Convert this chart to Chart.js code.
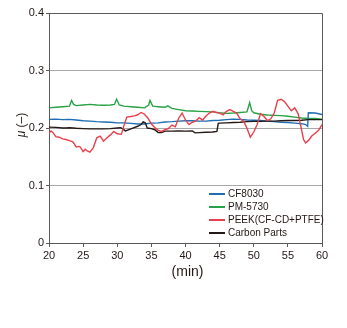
<!DOCTYPE html>
<html>
<head>
<meta charset="utf-8">
<script src="https://cdn.jsdelivr.net/npm/chart.js@4/dist/chart.umd.min.js"></script>
<style>
  html, body { margin: 0; padding: 0; background: #fff; }
  #wrap { width: 347px; height: 328px; }
</style>
</head>
<body>
<div id="wrap"><canvas id="muChart"></canvas></div>
<script>
// series names and colours
var seriesNames = ['CF8030', 'PM-5730', 'PEEK(CF-CD+PTFE)', 'Carbon Parts'];
var seriesColors = ['#1f6db4', '#27a245', '#e8404b', '#231815'];

// tick labels
var xTicks = [20, 25, 30, 35, 40, 45, 50, 55, 60];
var yTicks = ['0', '0.1', '0.2', '0.3', '0.4'];

// CF8030
var cfTime = [20, 21, 22, 23, 24, 25, 26, 27, 28, 29, 30, 31, 32, 33, 34, 35, 36, 37, 38, 39,
  40, 41, 42, 43, 44, 45, 46, 47, 48, 49, 50, 51, 52, 53, 54, 55, 56, 57, 57.6, 57.9, 58, 59, 60];
var cfMu = [0.215, 0.2155, 0.2145, 0.215, 0.214, 0.2125, 0.212, 0.211, 0.2105, 0.21, 0.209, 0.209, 0.208, 0.207, 0.207, 0.2085, 0.209, 0.2105, 0.211, 0.212,
  0.2125, 0.2125, 0.212, 0.212, 0.213, 0.2135, 0.2145, 0.2155, 0.215, 0.214, 0.2135, 0.213, 0.212, 0.211, 0.21, 0.2095, 0.2085, 0.2075, 0.206, 0.203, 0.2265, 0.226, 0.2235];

// PM-5730
var pmTime = [20, 21, 22, 23, 23.3, 23.6, 24, 25, 26, 27, 28, 29, 29.6, 29.9, 30.3, 31, 32, 33, 34, 34.6, 34.8, 35.2, 36, 37, 37.4, 38, 39,
  40, 41, 42, 43, 44, 45, 46, 47, 48, 49, 49.4, 49.7, 50, 51, 52, 53, 54, 55, 56, 57, 58, 59, 60];
var pmMu = [0.235, 0.236, 0.237, 0.238, 0.248, 0.241, 0.239, 0.240, 0.241, 0.240, 0.2395, 0.240, 0.241, 0.250, 0.240, 0.238, 0.237, 0.236, 0.235, 0.240, 0.248, 0.238, 0.237, 0.236, 0.2385, 0.234, 0.232,
  0.230, 0.2295, 0.229, 0.2285, 0.228, 0.2265, 0.2255, 0.226, 0.227, 0.228, 0.244, 0.230, 0.2265, 0.224, 0.2225, 0.222, 0.2215, 0.2205, 0.219, 0.2175, 0.2165, 0.2165, 0.2155];

// PEEK(CF-CD+PTFE)
var peekTime = [20, 20.3, 20.6, 21, 21.5, 22, 22.5, 23, 23.5, 24, 24.5, 24.8, 25, 25.3, 25.6, 26, 26.5, 27, 27.5, 28, 28.5, 29, 29.5, 30, 30.6,
  31, 31.4, 32, 32.5, 33, 33.5, 34, 34.5, 35, 35.5, 36, 36.5, 37, 37.5, 38, 38.5, 39, 39.5, 40, 40.5, 41, 41.5, 42, 42.5, 43, 43.5, 44, 44.5,
  45, 45.5, 46, 46.5, 47, 47.5, 48, 48.5, 49, 49.5, 50, 50.5, 51, 51.5, 52, 52.5, 53, 53.5, 54, 54.5, 55, 55.5, 56, 56.5, 57, 57.3, 57.6,
  58, 58.5, 59, 59.5, 60];
var peekMu = [0.191, 0.195, 0.192, 0.185, 0.184, 0.181, 0.180, 0.178, 0.176, 0.167, 0.168, 0.163, 0.159, 0.163, 0.160, 0.158, 0.166, 0.183, 0.186, 0.177, 0.183, 0.188, 0.194, 0.190, 0.189,
  0.205, 0.219, 0.220, 0.221, 0.223, 0.227, 0.224, 0.217, 0.207, 0.201, 0.196, 0.194, 0.197, 0.199, 0.205, 0.202, 0.217, 0.226, 0.214, 0.206, 0.210, 0.212, 0.218, 0.214, 0.221, 0.226, 0.229, 0.227,
  0.226, 0.223, 0.229, 0.232, 0.229, 0.226, 0.216, 0.212, 0.200, 0.184, 0.193, 0.206, 0.225, 0.220, 0.213, 0.216, 0.226, 0.248, 0.250, 0.246, 0.238, 0.230, 0.235, 0.225, 0.197, 0.180, 0.174,
  0.178, 0.186, 0.191, 0.196, 0.206];

// Carbon Parts
var cpTime = [20, 21, 22, 22.5, 23, 24, 25, 26, 27, 28, 29, 30, 30.5, 30.8, 31.2, 32, 33, 33.5, 33.8, 34.1, 34.4, 35, 35.5, 36, 36.5, 37, 38, 39,
  40, 41, 41.4, 42, 43, 44, 44.6, 44.8, 45, 46, 47, 48, 49, 50, 51, 52, 53, 54, 55, 56, 57, 58, 59, 60];
var cpMu = [0.2015, 0.201, 0.200, 0.200, 0.2005, 0.1995, 0.199, 0.1985, 0.1985, 0.1985, 0.199, 0.200, 0.2005, 0.1985, 0.195, 0.1985, 0.203, 0.206, 0.2105, 0.209, 0.200, 0.199, 0.197, 0.192, 0.192, 0.1945, 0.1945, 0.195,
  0.1945, 0.195, 0.1915, 0.192, 0.1925, 0.193, 0.194, 0.208, 0.2085, 0.209, 0.2095, 0.210, 0.211, 0.2115, 0.2115, 0.212, 0.212, 0.2125, 0.213, 0.213, 0.2135, 0.2145, 0.2145, 0.2145];

function toPoints(t, v) {
  var pts = [];
  for (var i = 0; i < t.length; i++) pts.push({ x: t[i], y: v[i] });
  return pts;
}

var allTimes = [cfTime, pmTime, peekTime, cpTime];
var allMu = [cfMu, pmMu, peekMu, cpMu];
var drawOrder = [2, 3, 0, 1];

var datasets = [];
for (var s = 0; s < seriesNames.length; s++) {
  datasets.push({
    label: seriesNames[s],
    data: toPoints(allTimes[s], allMu[s]),
    borderColor: seriesColors[s],
    backgroundColor: seriesColors[s],
    borderWidth: 1.4,
    pointRadius: 0,
    tension: 0,
    order: drawOrder[s]
  });
}

var frameColor = '#5a5a5a';
var textColor = '#231815';

// legend inside the plot, axis titles and the right/top frame
var extras = {
  id: 'extras',
  afterDraw: function(chart) {
    var c = chart.ctx, a = chart.chartArea;
    c.save();
    c.strokeStyle = frameColor;
    c.lineWidth = 1;
    c.beginPath();
    c.moveTo(a.left, a.top + 0.5);
    c.lineTo(a.right + 0.5, a.top + 0.5);
    c.lineTo(a.right + 0.5, a.bottom);
    c.stroke();

    c.font = '10px "Liberation Sans", Arial, sans-serif';
    c.textBaseline = 'middle';
    c.textAlign = 'left';
    for (var i = 0; i < seriesNames.length; i++) {
      var y = a.bottom - 49 + i * 13;
      c.strokeStyle = seriesColors[i];
      c.lineWidth = 2;
      c.beginPath();
      c.moveTo(a.right - 113, y);
      c.lineTo(a.right - 97, y);
      c.stroke();
      c.fillStyle = textColor;
      c.fillText(seriesNames[i], a.right - 94, y + 0.5);
    }

    // x title
    c.font = '14px "Liberation Sans", Arial, sans-serif';
    c.textAlign = 'center';
    c.fillText('(min)', (a.left + a.right) / 2 + 2, 272);

    // y title
    c.translate(22, (a.top + a.bottom) / 2 - 3);
    c.rotate(-Math.PI / 2);
    c.font = 'italic 12px "Liberation Sans", Arial, sans-serif';
    var mu = 'μ';
    var rest = ' (–)';
    var w1 = c.measureText(mu).width;
    c.font = '12px "Liberation Sans", Arial, sans-serif';
    var w2 = c.measureText(rest).width;
    var x0 = -(w1 + w2) / 2;
    c.textAlign = 'left';
    c.font = 'italic 12px "Liberation Sans", Arial, sans-serif';
    c.fillText(mu, x0, 0);
    c.font = '12px "Liberation Sans", Arial, sans-serif';
    c.fillText(rest, x0 + w1, 0);
    c.restore();
  }
};

new Chart(document.getElementById('muChart'), {
  type: 'line',
  data: { datasets: datasets },
  options: {
    responsive: true,
    maintainAspectRatio: false,
    animation: false,
    layout: { padding: { left: 0, right: 25, top: 13, bottom: 0 } },
    plugins: {
      legend: { display: false },
      tooltip: { enabled: false }
    },
    scales: {
      x: {
        type: 'linear',
        min: 20,
        max: 60,
        afterBuildTicks: function(scale) {
          scale.ticks = xTicks.map(function(v) { return { value: v }; });
        },
        afterFit: function(scale) { scale.height = 85; },
        grid: { drawOnChartArea: false, drawTicks: true, tickLength: 4, color: frameColor },
        border: { display: true, color: frameColor },
        ticks: {
          color: textColor,
          padding: 2,
          maxRotation: 0,
          font: { family: '"Liberation Sans", Arial, sans-serif', size: 11 }
        }
      },
      y: {
        min: 0,
        max: 0.4,
        afterBuildTicks: function(scale) {
          scale.ticks = yTicks.map(function(v) { return { value: parseFloat(v) }; });
        },
        afterFit: function(scale) { scale.width = 49; },
        grid: {
          color: function(ctx) {
            var v = ctx.tick ? ctx.tick.value : 0;
            return (v === 0 || v === 0.4) ? frameColor : '#a8a8a8';
          },
          tickColor: frameColor,
          tickLength: 3,
          drawTicks: true
        },
        border: { display: true, color: frameColor },
        ticks: {
          color: textColor,
          padding: 2,
          font: { family: '"Liberation Sans", Arial, sans-serif', size: 11 },
          callback: function(value, index) { return yTicks[index]; }
        }
      }
    }
  },
  plugins: [extras]
});
</script>
</body>
</html>
